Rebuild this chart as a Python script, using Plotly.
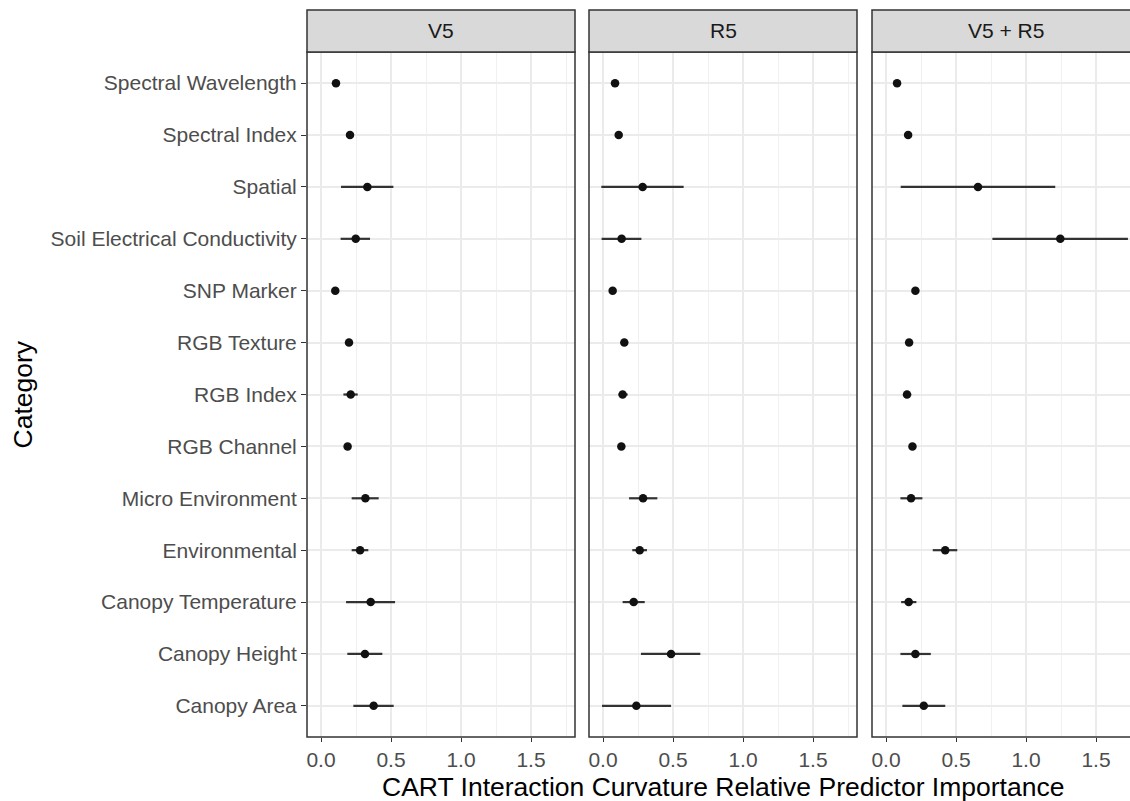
import plotly.graph_objects as go
import numpy as np

categories = ["Spectral Wavelength", "Spectral Index", "Spatial", "Soil Electrical Conductivity",
              "SNP Marker", "RGB Texture", "RGB Index", "RGB Channel", "Micro Environment",
              "Environmental", "Canopy Temperature", "Canopy Height", "Canopy Area"]

panels = ["V5", "R5", "V5 + R5"]

v5_mean = [0.107, 0.207, 0.331, 0.248, 0.102, 0.200, 0.212, 0.190, 0.317, 0.279, 0.355, 0.314, 0.376]
v5_lo   = [0.097, 0.197, 0.143, 0.140, 0.092, 0.190, 0.160, 0.180, 0.219, 0.219, 0.179, 0.188, 0.231]
v5_hi   = [0.117, 0.217, 0.517, 0.350, 0.112, 0.210, 0.262, 0.200, 0.412, 0.338, 0.529, 0.438, 0.519]

r5_mean = [0.086, 0.112, 0.283, 0.133, 0.069, 0.152, 0.140, 0.131, 0.286, 0.262, 0.219, 0.486, 0.238]
r5_lo   = [0.078, 0.102, -0.012, -0.010, 0.060, 0.142, 0.112, 0.120, 0.186, 0.209, 0.140, 0.271, -0.007]
r5_hi   = [0.094, 0.122, 0.576, 0.274, 0.078, 0.162, 0.176, 0.142, 0.388, 0.314, 0.298, 0.695, 0.486]

vr_mean = [0.079, 0.158, 0.657, 1.245, 0.210, 0.165, 0.150, 0.189, 0.179, 0.423, 0.162, 0.210, 0.270]
vr_lo   = [0.070, 0.148, 0.105, 0.760, 0.200, 0.155, 0.122, 0.179, 0.103, 0.334, 0.108, 0.103, 0.117]
vr_hi   = [0.088, 0.168, 1.209, 1.728, 0.220, 0.175, 0.180, 0.199, 0.260, 0.509, 0.217, 0.320, 0.423]

x_ticks = [0.0, 0.5, 1.0, 1.5]
x_ticktext = ["0.0", "0.5", "1.0", "1.5"]

series = [(v5_mean, v5_lo, v5_hi), (r5_mean, r5_lo, r5_hi), (vr_mean, vr_lo, vr_hi)]

W, H = 1130, 801
px = lambda v: v / W
py = lambda v: (H - v) / H

panel_x = [(307, 575), (589, 857), (872, 1130)]
panel_top, panel_bot = 52, 737
strip_top = 10

FONT = "Liberation Sans, Arial, Helvetica, sans-serif"

fig = go.Figure()
for i, (m, lo, hi) in enumerate(series):
    m = np.array(m); lo = np.array(lo); hi = np.array(hi)
    suffix = "" if i == 0 else str(i + 1)
    fig.add_trace(go.Scatter(
        x=m, y=categories, mode="markers",
        marker=dict(color="#111111", size=8.5),
        error_x=dict(type="data", symmetric=False, array=hi - m, arrayminus=m - lo,
                     width=0, thickness=2.2, color="#333333"),
        xaxis="x" + suffix, yaxis="y" + suffix, showlegend=False, hoverinfo="skip"))

layout = dict(width=W, height=H, margin=dict(l=0, r=0, t=0, b=0),
              paper_bgcolor="white", plot_bgcolor="white",
              font=dict(family=FONT, color="#4d4d4d"))

for i, (x0, x1) in enumerate(panel_x):
    suffix = "" if i == 0 else str(i + 1)
    rng = [-0.1, 1.814] if i < 2 else [-0.1, (1130 - 886) / 140.0]
    layout["xaxis" + suffix] = dict(
        domain=[px(x0), px(x1)], range=rng, anchor="y" + suffix,
        tickvals=x_ticks, ticktext=x_ticktext, ticks="outside", ticklen=4,
        tickcolor="#333333", tickwidth=1.2,
        tickfont=dict(size=21, color="#4d4d4d", family=FONT),
        showgrid=True, gridcolor="#ebebeb", gridwidth=1.6, zeroline=False,
        minor=dict(tickvals=[0.25, 0.75, 1.25, 1.75], showgrid=True,
                   gridcolor="#f0f0f0", gridwidth=0.9, ticks=""),
        showline=False)
    layout["yaxis" + suffix] = dict(
        domain=[py(panel_bot), py(panel_top)], anchor="x" + suffix,
        type="category", categoryorder="array", categoryarray=categories,
        range=[12.6, -0.6], showgrid=True, gridcolor="#ebebeb", gridwidth=1.6,
        zeroline=False, showline=False,
        ticks="outside" if i == 0 else "", ticklen=5, tickcolor="#333333", tickwidth=1.2,
        showticklabels=(i == 0),
        tickfont=dict(size=21, color="#4d4d4d", family=FONT))

shapes = []
annotations = []
for i, (x0, x1) in enumerate(panel_x):
    ex1 = x1 if i < 2 else 1140
    shapes.append(dict(type="rect", xref="paper", yref="paper",
                       x0=px(x0), x1=px(ex1), y0=py(panel_bot), y1=py(panel_top),
                       line=dict(color="#333333", width=1.5), fillcolor="rgba(0,0,0,0)",
                       layer="above"))
    shapes.append(dict(type="rect", xref="paper", yref="paper",
                       x0=px(x0), x1=px(ex1), y0=py(panel_top), y1=py(strip_top),
                       line=dict(color="#333333", width=1.5), fillcolor="#d9d9d9",
                       layer="above"))
    annotations.append(dict(text=panels[i], xref="paper", yref="paper",
                            x=px((x0 + ex1) / 2), y=py((strip_top + panel_top) / 2),
                            showarrow=False, xanchor="center", yanchor="middle",
                            font=dict(size=21, color="#1a1a1a", family=FONT)))

annotations.append(dict(text="CART Interaction Curvature Relative Predictor Importance",
                        xref="paper", yref="paper", x=px(723), y=py(787),
                        showarrow=False, xanchor="center", yanchor="middle",
                        font=dict(size=26.5, color="#000000", family=FONT)))
annotations.append(dict(text="Category", xref="paper", yref="paper", x=px(22), y=py(394.5),
                        showarrow=False, xanchor="center", yanchor="middle", textangle=-90,
                        font=dict(size=26.5, color="#000000", family=FONT)))

layout["shapes"] = shapes
layout["annotations"] = annotations
fig.update_layout(**layout)
fig.write_html("out.html", config={"displayModeBar": False},
               post_script="document.body.style.margin='0';document.body.style.padding='0';document.body.style.overflow='hidden';")
